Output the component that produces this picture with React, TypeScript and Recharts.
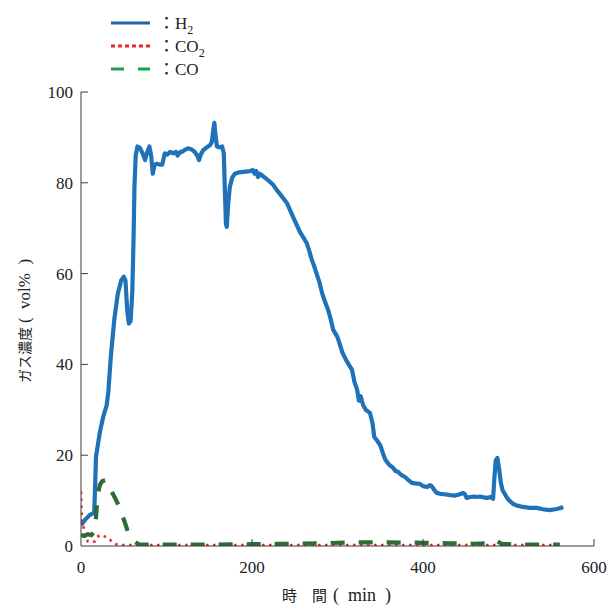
import { Line, LineChart, XAxis, YAxis } from "recharts";

document.body.style.margin = "0";

const SERIF = "'Liberation Serif', 'Times New Roman', 'Noto Sans CJK JP', serif";
const CJK = "'Noto Sans CJK JP', 'Liberation Serif', serif";
const AXIS_COLOR = "#3a3a3a";
const TEXT_COLOR = "#222";

// time (min), concentration (vol%)
const H2: [number, number][] = [
  [0, 4.6], [5, 5.8], [10, 6.8], [14, 7.2], [15.5, 7.5], [16.5, 13], [17.5, 19.6], [22, 25],
  [26, 28.5], [30, 31], [32, 34], [35, 42], [39, 50], [43, 55.5], [47, 58.5], [50, 59.3],
  [52, 58.5], [54, 52], [56, 49], [58, 49.5], [60, 56], [61.5, 68], [62.5, 79], [64, 86],
  [66, 88], [69, 87.7], [72, 86.5], [75, 85], [77, 86.5], [80, 88], [82, 86], [84, 82],
  [86, 84], [89, 84.2], [92, 84], [95, 84], [98, 86.5], [101, 86.2], [104, 86.8], [108, 86.5],
  [111, 86.8], [113, 86], [116, 86.8], [118, 86.8], [121, 87.2], [125, 87.6], [129, 87.4],
  [133, 86.8], [136, 86], [138, 85], [140, 86.2], [143, 87.2], [147, 87.8], [151, 88.3],
  [153, 89], [155, 92], [156, 93.2], [157, 91], [159, 88], [162, 87.8], [165, 88], [167, 86.5],
  [168, 80], [169.5, 71], [170.5, 70.3], [172, 75], [174, 79], [177, 81.2], [180, 82],
  [185, 82.3], [190, 82.4], [195, 82.5], [198, 82.6], [201, 82.8], [203, 82], [205, 82.6],
  [207, 81.3], [209, 82], [212, 81.6], [216, 81], [221, 80.2], [225, 79.5], [229, 78.4],
  [235, 77], [241, 75.5], [248, 72.5], [256, 69.2], [260, 68], [264, 66.7], [267, 65],
  [270, 63], [273, 61.5], [276, 59.7], [279, 58], [282, 55.7], [285, 54], [289, 52], [292, 50],
  [295, 47.6], [300, 46], [306, 42.5], [310, 41], [313, 40], [317, 38.8], [320, 36],
  [323, 34.4], [325, 32], [327, 33], [330, 31], [333, 30], [336, 29.6], [338, 29.3], [341, 27],
  [343, 24], [346, 23.3], [350, 22.2], [353, 20.5], [356, 19], [360, 18], [365, 17.2],
  [368, 16.5], [371, 16.3], [375, 15.6], [379, 15.2], [383, 14.5], [387, 13.9], [391, 13.8],
  [396, 13.7], [400, 13.2], [405, 13], [408, 13.4], [410, 13.2], [413, 12.4], [416, 11.7],
  [420, 11.5], [425, 11.4], [432, 11.2], [438, 11.1], [443, 11.4], [447, 11.7], [449, 11.4],
  [451, 10.6], [455, 10.8], [460, 10.9], [463, 10.8], [467, 10.9], [471, 10.7], [475, 10.6],
  [479, 10.8], [482, 10.4], [483.5, 15], [485, 18.8], [487, 19.4], [489, 17], [491, 14],
  [493, 12.3], [497, 11], [500, 10.2], [505, 9.3], [510, 8.9], [517, 8.6], [525, 8.4],
  [533, 8.4], [540, 8.1], [548, 7.9], [555, 8.1], [560, 8.3], [564, 8.6],
];

const CO2: [number, number][] = [
  [0, 12], [0.5, 8.5], [1, 6.5], [2, 5], [4, 3.2], [6, 1.8], [8, 1], [12, 0.9], [16, 1],
  [19, 2], [22, 2.4], [26, 2.2], [29, 2], [33, 1.5], [37, 0.9], [41, 0.4], [45, 0.2],
  [100, 0.2], [200, 0.2], [300, 0.2], [400, 0.2], [500, 0.2], [560, 0.2],
];

const CO: [number, number][] = [
  [0, 2.4], [4, 2.2], [8, 2.6], [12, 2.4], [15, 3], [17, 5], [19, 10], [20.5, 12], [22, 13.4],
  [25, 14.3], [29, 14.5], [32, 13.5], [35, 12.3], [40, 10.5], [45, 8.6], [49, 6.4], [52, 4.8],
  [55, 3], [59, 1.8], [63, 0.9], [68, 0.3], [80, 0.3], [120, 0.3], [160, 0.3], [200, 0.4],
  [240, 0.5], [280, 0.6], [320, 0.8], [360, 0.8], [400, 0.7], [430, 0.6], [460, 0.5],
  [478, 0.6], [483, 1.2], [487, 1], [492, 0.5], [510, 0.3], [540, 0.3], [560, 0.3],
];

const X_TICKS = [0, 200, 400, 600];
const Y_TICKS = [0, 20, 40, 60, 80, 100];

const toRows = (pts: [number, number][]) => pts.map(([t, v]) => ({ t, v }));

const XTick = (props: any) => {
  const { x, y, payload } = props;
  return (
    <g>
      {payload.value !== 0 && <line x1={x} x2={x} y1={y} y2={y - 7} stroke={AXIS_COLOR} />}
      <text x={x} y={y + 27} textAnchor="middle" fontSize={17} fill={TEXT_COLOR} fontFamily={SERIF}>
        {payload.value}
      </text>
    </g>
  );
};

const YTick = (props: any) => {
  const { x, y, payload } = props;
  return (
    <g>
      {payload.value !== 0 && <line x1={x} x2={x + 7} y1={y} y2={y} stroke={AXIS_COLOR} />}
      <text x={x - 8} y={y + 6} textAnchor="end" fontSize={17} fill={TEXT_COLOR} fontFamily={SERIF}>
        {payload.value}
      </text>
    </g>
  );
};

const legendItems = [
  { name: "H", sub: "2", color: "#2066a8", dash: undefined, y: 23 },
  { name: "CO", sub: "2", color: "#e8262c", dash: "4 3", y: 46 },
  { name: "CO", sub: "", color: "#1ba04a", dash: "13 14", y: 69 },
];

export default function App() {
  return (
    <div style={{ position: "relative", width: 608, height: 606 }}>
      <LineChart width={608} height={606} margin={{ top: 92, right: 14, left: 0, bottom: 0 }}>
        <XAxis
          dataKey="t"
          type="number"
          domain={[0, 600]}
          ticks={X_TICKS}
          interval={0}
          height={60}
          tickSize={0}
          tickMargin={0}
          tickLine={false}
          tick={<XTick />}
          stroke={AXIS_COLOR}
          allowDataOverflow
        />
        <YAxis
          type="number"
          domain={[0, 100]}
          ticks={Y_TICKS}
          interval={0}
          width={81}
          tickSize={0}
          tickMargin={0}
          tickLine={false}
          tick={<YTick />}
          stroke={AXIS_COLOR}
          allowDataOverflow
        />
        <Line
          data={toRows(H2)}
          dataKey="v"
          type="linear"
          stroke="#1f72b8"
          strokeWidth={4.2}
          strokeLinejoin="round"
          dot={false}
          activeDot={false}
          isAnimationActive={false}
        />
        <Line
          data={toRows(CO2)}
          dataKey="v"
          type="linear"
          stroke="#e8262c"
          strokeWidth={2.6}
          strokeDasharray="2.5 4.5"
          dot={false}
          activeDot={false}
          isAnimationActive={false}
        />
        <Line
          data={toRows(CO)}
          dataKey="v"
          type="linear"
          stroke="#2f6b35"
          strokeWidth={4.2}
          strokeDasharray="14 14"
          dot={false}
          activeDot={false}
          isAnimationActive={false}
        />
      </LineChart>
      <svg
        width={608}
        height={606}
        style={{ position: "absolute", left: 0, top: 0, pointerEvents: "none" }}
      >
        {legendItems.map((it) => (
          <g key={it.name + it.sub}>
            <line x1={111} x2={150} y1={it.y} y2={it.y} stroke={it.color} strokeWidth={3} strokeDasharray={it.dash} />
            <text x={158} y={it.y + 6} fontSize={17} fill={TEXT_COLOR} fontFamily={SERIF}>
              {"："}
              {it.name}
              {it.sub && (
                <tspan fontSize={12} dy={5}>
                  {it.sub}
                </tspan>
              )}
            </text>
          </g>
        ))}
        <text x={282} y={601} fill={TEXT_COLOR}>
          <tspan fontSize={15} fontFamily={CJK}>時　間</tspan>
          <tspan fontSize={18} fontFamily={SERIF} dx={6}>(&#8194;min&#8194;)</tspan>
        </text>
        <text transform="translate(30, 321) rotate(-90)" textAnchor="middle" fill={TEXT_COLOR}>
          <tspan fontSize={14} fontFamily={CJK}>ガス濃度</tspan>
          <tspan fontSize={17} fontFamily={SERIF} dx={4}>(&#8194;vol%&#8194;)</tspan>
        </text>
      </svg>
    </div>
  );
}
